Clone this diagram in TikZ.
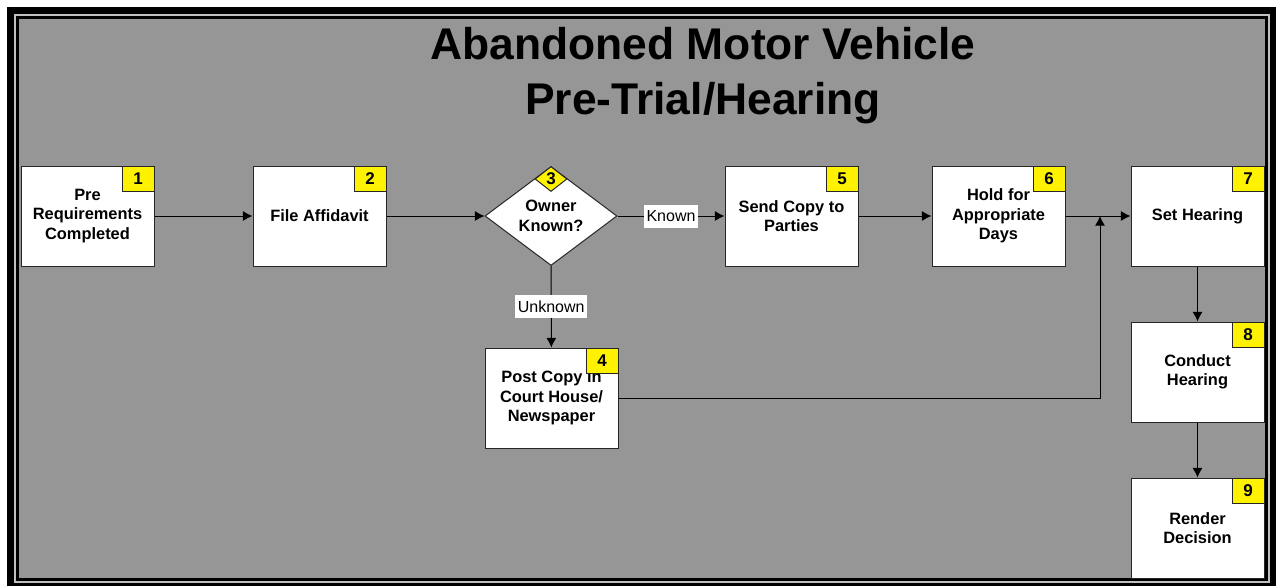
\documentclass[tikz,border=0pt]{standalone}
\usepackage{fontspec}
\setmainfont{Liberation Sans}
\usetikzlibrary{shapes.geometric,arrows.meta}
\definecolor{bggray}{RGB}{150,150,150}
\definecolor{framegray}{RGB}{192,192,192}
\tikzset{
  stepbox/.style={draw=black!85,fill=white,line width=0.5pt,minimum width=66.5pt,minimum height=50pt,inner sep=0pt,align=center,font=\fontsize{8.2}{9.75}\selectfont\bfseries},
  decision/.style={diamond,draw=black!85,fill=white,line width=0.5pt,minimum width=66pt,minimum height=49.5pt,inner sep=0pt,align=center,font=\fontsize{8.2}{9.75}\selectfont\bfseries},
  badge/.style={draw=black!85,fill=yellow,line width=0.5pt,minimum width=16pt,minimum height=12.5pt,inner sep=0pt,anchor=north east,font=\fontsize{8.5}{9}\selectfont\bfseries},
  tag/.style={fill=white,inner sep=1.3pt,minimum height=11.5pt,font=\fontsize{8}{9}\selectfont}
}
\begin{document}
\begin{tikzpicture}[x=0.5pt,y=-0.5pt,>={Latex[length=4.8pt,width=5pt]},line width=0.5pt]
  \useasboundingbox (0,0) rectangle (1276,586);
  % frame
  \fill[white] (0,0) rectangle (1276,586);
  \fill[black] (7,7) rectangle (1276,586);
  \draw[framegray,line width=1pt] (15,15) rectangle (1269,582);
  \fill[bggray] (19,19) rectangle (1265,578);
  % title
  \node[align=center,font=\fontsize{22.2}{27.5}\selectfont\bfseries] (title) at (703,76) {Abandoned Motor Vehicle\\Pre-Trial/Hearing};
  % steps
  \node[stepbox] (b1) at (87.5,216) {Pre\\Requirements\\Completed};
  \node[stepbox] (b2) at (319.5,216) {File Affidavit};
  \node[decision] (d3) at (551,216) {Owner\\Known?};
  \node[stepbox] (b4) at (551.5,398) {Post Copy in\\Court House/\\Newspaper};
  \node[stepbox] (b5) at (791.5,216) {Send Copy to\\Parties};
  \node[stepbox] (b6) at (998.5,216) {Hold for\\Appropriate\\Days};
  \node[stepbox] (b7) at (1197.5,216) {Set Hearing};
  \node[stepbox] (b8) at (1197.5,372) {Conduct\\Hearing};
  \node[stepbox] (b9) at (1197.5,528) {Render\\Decision};
  % numbers
  \node[badge] (n1) at (b1.north east) {1};
  \node[badge] (n2) at (b2.north east) {2};
  \node[badge,diamond,anchor=north,minimum width=16pt,minimum height=12.5pt] (n3) at (d3.north) {3};
  \node[badge] (n4) at (b4.north east) {4};
  \node[badge] (n5) at (b5.north east) {5};
  \node[badge] (n6) at (b6.north east) {6};
  \node[badge] (n7) at (b7.north east) {7};
  \node[badge] (n8) at (b8.north east) {8};
  \node[badge] (n9) at (b9.north east) {9};
  % connectors
  \coordinate (join) at (1100,216);
  \draw[->] (b1) -- (b2);
  \draw[->] (b2) -- (d3);
  \draw[->] (d3) -- node[tag] (known) {Known} (b5);
  \draw[->] (d3) -- node[tag] (unknown) {Unknown} (b4);
  \draw[->] (b5) -- (b6);
  \draw[->] (b6) -- (b7);
  \draw[->] (b4.east) -| (join);
  \draw[->] (b7) -- (b8);
  \draw[->] (b8) -- (b9);
\end{tikzpicture}
\end{document}
